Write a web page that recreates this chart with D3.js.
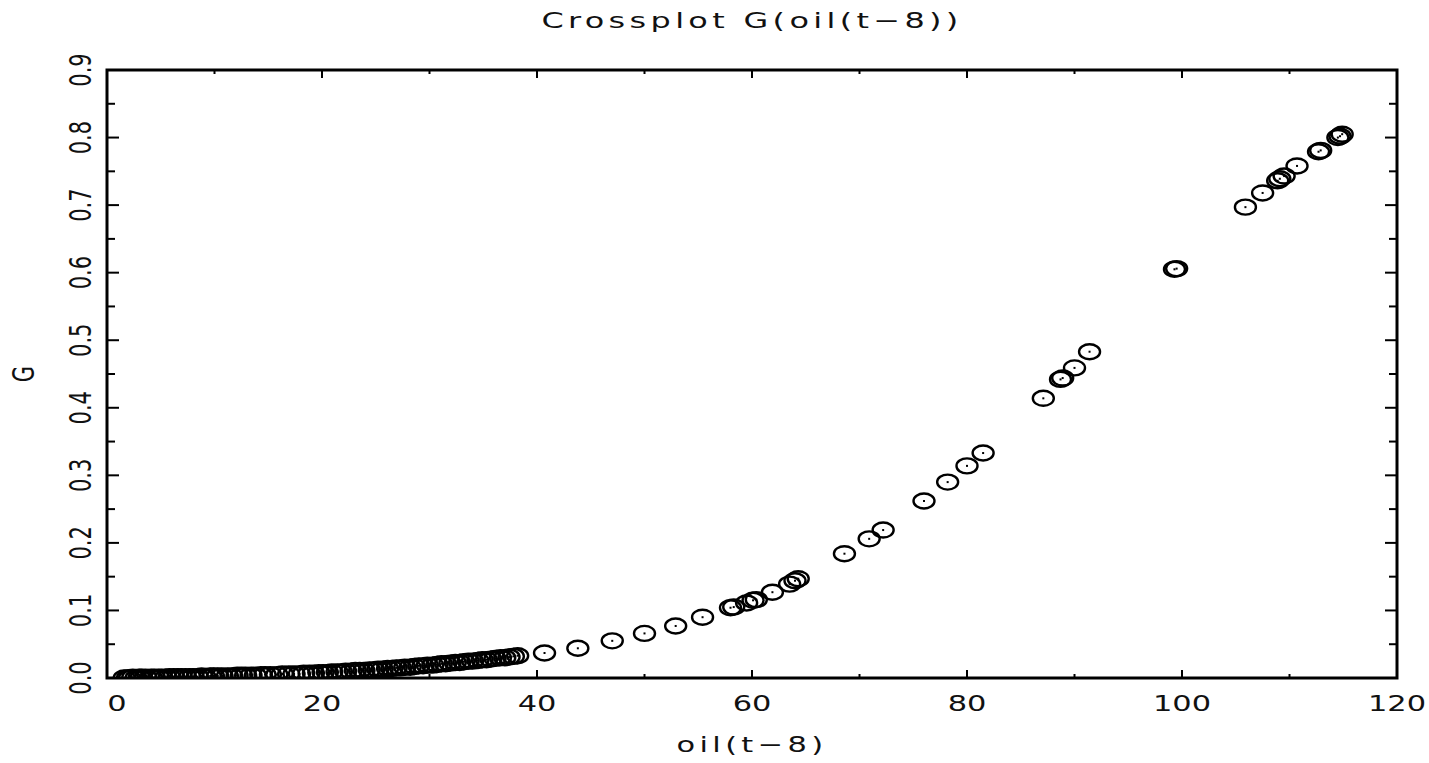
<!DOCTYPE html>
<html lang="en">
  <head>
    <meta charset="UTF-8" />
    <title>Crossplot G(oil(t-8))</title>
    <script src="https://cdn.jsdelivr.net/npm/d3@7"></script>
    <style>
      body { margin: 0; background: white; }
      svg { display: block; background: white; }
      text { font-family: "DejaVu Sans", sans-serif; fill: #111; }
    </style>
  </head>
  <body>
    <svg id="chart" width="1429" height="763"></svg>
    <script>
      // values (oil(t-8) on x, G on y)
      // dense run near the bottom left
      const oilLow = [
        1.6, 1.9, 2.1, 2.4, 2.7, 3.0, 3.2, 3.6, 4.1, 4.4,
        4.8, 5.1, 5.5, 5.8, 6.2, 6.6, 6.9, 7.3, 7.7, 8.0,
        8.4, 8.8, 9.1, 9.6, 9.9, 10.3, 10.7, 11.2, 11.6, 12.1,
        12.5, 12.9, 13.4, 13.8, 14.3, 14.7, 15.2, 15.8, 16.3, 16.9,
        17.4, 17.9, 18.3, 18.8, 19.2, 19.7, 20.1, 20.5, 20.9, 21.4,
        21.8, 22.2, 22.7, 23.1, 23.5, 23.9, 24.4, 24.8, 25.2, 25.6,
        26.1, 26.5, 26.9, 27.3, 27.7, 28.2, 28.6, 29.0, 29.4, 29.8,
        30.3, 30.7, 31.1, 31.5, 31.9, 32.4, 32.8, 33.2, 33.6, 34.0,
        34.5, 34.9, 35.3, 35.7, 36.1, 36.6, 37.0, 37.4, 37.8, 38.2,
      ];
      const GLow = [
        0.0, 0.0, 0.0, 0.001, 0.0, 0.001, 0.001, 0.001, 0.001, 0.001,
        0.001, 0.001, 0.001, 0.002, 0.002, 0.002, 0.002, 0.002, 0.002, 0.002,
        0.002, 0.003, 0.002, 0.003, 0.003, 0.003, 0.003, 0.003, 0.003, 0.004,
        0.004, 0.004, 0.004, 0.004, 0.005, 0.005, 0.005, 0.005, 0.006, 0.006,
        0.006, 0.006, 0.007, 0.007, 0.007, 0.008, 0.008, 0.008, 0.009, 0.009,
        0.009, 0.01, 0.01, 0.011, 0.011, 0.011, 0.012, 0.012, 0.013, 0.013,
        0.014, 0.014, 0.015, 0.015, 0.016, 0.016, 0.017, 0.018, 0.018, 0.019,
        0.019, 0.02, 0.021, 0.021, 0.022, 0.023, 0.023, 0.024, 0.025, 0.025,
        0.026, 0.027, 0.027, 0.028, 0.029, 0.03, 0.03, 0.031, 0.032, 0.033,
      ];
      // sparser points further right
      const oilHigh = [
        40.7, 43.8, 47.0, 50.0, 52.9, 55.4, 58.0, 58.3, 59.5, 60.1, 60.4, 61.9,
        63.5, 64.0, 64.3, 68.6, 70.9, 72.2, 76.0, 78.2, 80.0, 81.5, 87.1, 88.7,
        88.9, 90.0, 91.4, 99.3, 99.5, 105.9, 107.5, 108.9, 109.1, 109.5, 110.7,
        112.7, 112.9, 114.5, 114.7, 114.9,
      ];
      const GHigh = [
        0.037, 0.044, 0.055, 0.066, 0.077, 0.09, 0.104, 0.105, 0.111, 0.115,
        0.116, 0.127, 0.139, 0.144, 0.147, 0.184, 0.206, 0.219, 0.262, 0.29,
        0.314, 0.333, 0.414, 0.442, 0.444, 0.459, 0.483, 0.605, 0.606, 0.697,
        0.718, 0.736, 0.739, 0.743, 0.758, 0.779, 0.781, 0.8, 0.802, 0.805,
      ];
      const xTickLabels = ["0", "20", "40", "60", "80", "100", "120"];
      const yTickLabels = ["0.0", "0.1", "0.2", "0.3", "0.4", "0.5", "0.6", "0.7", "0.8", "0.9"];

      const oil = oilLow.concat(oilHigh);
      const G = GLow.concat(GHigh);
      const points = oil.map((x, i) => ({ x, y: G[i] }));

      const svg = d3.select("#chart");
      const plotLeft = 107, plotRight = 1397, plotTop = 70, plotBottom = 678;
      const stretch = 1.45; // glyphs in the original are wider than tall

      const x = d3.scaleLinear().domain([0, 120]).range([plotLeft, plotRight]);
      const y = d3.scaleLinear().domain([0, 0.9]).range([plotBottom, plotTop]);

      svg.append("clipPath").attr("id", "plot")
        .append("rect")
        .attr("x", plotLeft).attr("y", plotTop)
        .attr("width", plotRight - plotLeft).attr("height", plotBottom - plotTop);

      // markers
      const marks = svg.append("g").attr("clip-path", "url(#plot)");
      marks.selectAll("ellipse")
        .data(points)
        .enter()
        .append("ellipse")
        .attr("cx", (d) => x(d.x))
        .attr("cy", (d) => y(d.y))
        .attr("rx", 10.5)
        .attr("ry", 7.5)
        .attr("fill", "none")
        .attr("stroke", "#000")
        .attr("stroke-width", 2.4);
      marks.selectAll("rect.dot")
        .data(points)
        .enter()
        .append("rect")
        .attr("class", "dot")
        .attr("x", (d) => x(d.x) - 1)
        .attr("y", (d) => y(d.y) - 1)
        .attr("width", 2)
        .attr("height", 2)
        .attr("fill", "#000");

      // ticks on all four sides, pointing inward
      const ticks = svg.append("g").attr("stroke", "#000").attr("stroke-width", 2);
      d3.range(0, 121, 10).forEach((v) => {
        const len = v % 20 === 0 ? 8 : 4;
        ticks.append("line").attr("x1", x(v)).attr("x2", x(v)).attr("y1", plotBottom).attr("y2", plotBottom - len);
        ticks.append("line").attr("x1", x(v)).attr("x2", x(v)).attr("y1", plotTop).attr("y2", plotTop + len);
      });
      d3.range(0, 19).forEach((i) => {
        const v = i * 0.05;
        const len = i % 2 === 0 ? 12 : 8;
        ticks.append("line").attr("x1", plotLeft).attr("x2", plotLeft + len).attr("y1", y(v)).attr("y2", y(v));
        ticks.append("line").attr("x1", plotRight).attr("x2", plotRight - len).attr("y1", y(v)).attr("y2", y(v));
      });

      // frame
      svg.append("rect")
        .attr("x", plotLeft).attr("y", plotTop)
        .attr("width", plotRight - plotLeft).attr("height", plotBottom - plotTop)
        .attr("fill", "none")
        .attr("stroke", "#000")
        .attr("stroke-width", 3);

      // x tick labels
      svg.append("g")
        .selectAll("text")
        .data(xTickLabels)
        .enter()
        .append("text")
        .attr("text-anchor", "middle")
        .attr("font-size", 21)
        .attr("transform", (d, i) => `translate(${x(+d) + (i === 0 ? 10 : 0)},711) scale(${stretch},1)`)
        .text((d) => d);

      // y tick labels, turned
      svg.append("g")
        .selectAll("text")
        .data(yTickLabels)
        .enter()
        .append("text")
        .attr("text-anchor", "middle")
        .attr("font-size", 21)
        .attr("transform", (d) => `translate(91,${y(+d)}) scale(${stretch},1) rotate(-90)`)
        .text((d) => d);

      // title and axis names
      svg.append("text")
        .attr("text-anchor", "middle")
        .attr("font-size", 22)
        .attr("letter-spacing", 3)
        .attr("transform", `translate(${(plotLeft + plotRight) / 2},28) scale(${stretch},1)`)
        .text("Crossplot G(oil(t\u22128))");

      svg.append("text")
        .attr("text-anchor", "middle")
        .attr("font-size", 21)
        .attr("letter-spacing", 3)
        .attr("transform", `translate(${(plotLeft + plotRight) / 2},752) scale(${stretch},1)`)
        .text("oil(t\u22128)");

      svg.append("text")
        .attr("text-anchor", "middle")
        .attr("font-size", 21)
        .attr("transform", `translate(34,${(plotTop + plotBottom) / 2}) scale(${stretch},1) rotate(-90)`)
        .text("G");
    </script>
  </body>
</html>
